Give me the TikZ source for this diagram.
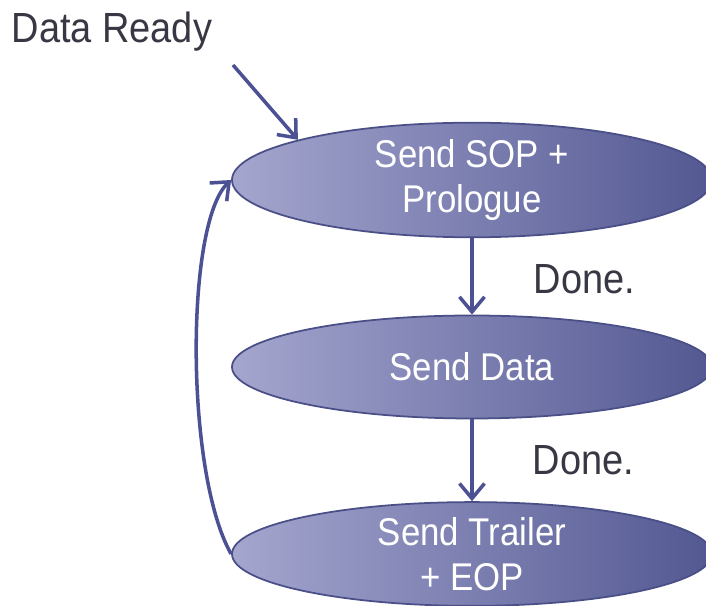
\documentclass[tikz,border=0pt]{standalone}
\usepackage{fontspec}
\setmainfont{Liberation Sans}[FakeStretch=0.9]
\usepackage{xcolor}
\usepackage{tikz}
\usetikzlibrary{arrows.meta,positioning,shapes.geometric}

\definecolor{stateL}{HTML}{A4A6CE}
\definecolor{stateR}{HTML}{535892}
\definecolor{stateLine}{HTML}{4A4F88}
\definecolor{flow}{HTML}{4C5194}
\definecolor{labelgray}{HTML}{383844}

\begin{document}
\begin{tikzpicture}[
    node distance=1.87cm,
    >={Straight Barb[length=1.5mm,width=2.5mm]},
    state/.style={ellipse, draw=stateLine, line width=0.5pt, left color=stateL, right color=stateR,
        minimum width=4.8cm, minimum height=1.03cm, inner sep=0pt, align=center, text=white,
        font=\fontsize{11}{12.8}\selectfont},
    lbl/.style={text=labelgray, inner sep=0pt, anchor=base west},
    flowline/.style={->, draw=flow, line width=1pt}
]
    \useasboundingbox (0,0) rectangle (7.06,6.06);
    \clip (0,0) rectangle (7.06,6.06);

    \node[state] (sop) at (4.72,4.26) {Send SOP +\\Prologue};
    \node[state, below of=sop] (data) {Send Data};
    \node[state, below of=data] (trailer) {Send Trailer\\+ EOP};

    \node[lbl, font=\fontsize{12}{14}\selectfont] (ready) at (0.11,5.63) {Data Ready};
    \node[lbl, font=\fontsize{12}{14}\selectfont] (done1) at (5.33,3.12) {Done.};
    \node[lbl, font=\fontsize{12}{14}\selectfont] (done2) at (5.32,1.31) {Done.};
    \coordinate (readytail) at (2.33,5.41);

    \draw[flowline] (readytail) -- (sop.167);
    \draw[flowline] (sop) -- (data);
    \draw[flowline] (data) -- (trailer);
    \draw[flowline] (trailer.west) .. controls +(-0.46,0.81) and +(-0.46,-0.43) .. (sop.west);
\end{tikzpicture}
\end{document}
